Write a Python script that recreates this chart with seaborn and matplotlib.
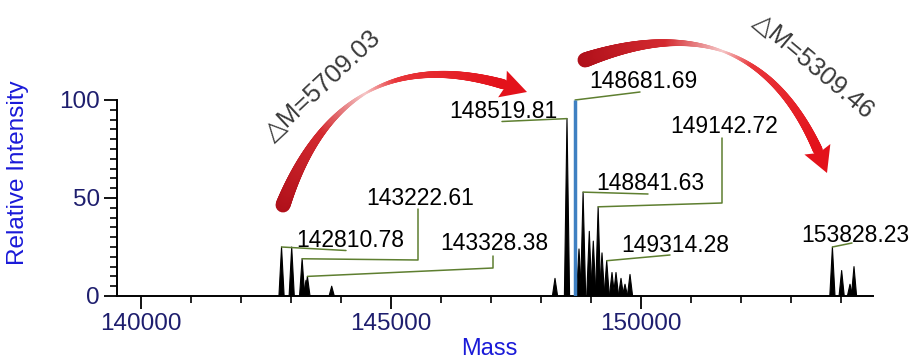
import numpy as np
import pandas as pd
import matplotlib
matplotlib.use("Agg")
import matplotlib.pyplot as plt
import seaborn as sns
from matplotlib.collections import LineCollection
from matplotlib.patches import Polygon
from matplotlib.transforms import IdentityTransform
from matplotlib.colors import LinearSegmentedColormap
from matplotlib.ticker import MultipleLocator, FixedLocator

# ---------------- data ----------------
peak_mass = [142810.78, 143014, 143222.61, 143300, 143328.38, 143814,
             148280, 148519.81, 148760, 148841.63, 148966, 149046, 149142.72,
             149220, 149314.28, 149420, 149500, 149600, 149680, 149780,
             153828.23, 154013, 154180, 154260]
peak_height = [25, 25, 19, 8, 10, 5,
               9, 90.5, 24, 53, 33, 28, 45.5,
               22, 18, 12, 12, 9, 6, 11,
               25, 13, 6, 15]
main_mass = 148681.69
main_height = 100

label_masses = [142810.78, 143222.61, 143328.38, 148519.81, 148681.69,
                148841.63, 149142.72, 149314.28, 153828.23]
delta_labels = ["\u25B3M=5709.03", "\u25B3M=5309.46"]

x_major = [140000, 145000, 150000]
y_major = [0, 50, 100]

# ---------------- style ----------------
sns.set_style("ticks")
plt.rcParams['font.family'] = ['Liberation Sans', 'DejaVu Sans']

W, H = 915, 363
fig = plt.figure(figsize=(W / 100, H / 100), dpi=100)
ax = fig.add_axes([117 / W, 67 / H, 756 / W, 196 / H])
ax.set_xlim(139520, 154640)
ax.set_ylim(0, 100)

# spectrum peaks
half_w = 52
rows = []
for i, (m, h) in enumerate(zip(peak_mass, peak_height)):
    for dx, yy in ((-half_w, 0), (0, h), (half_w, 0)):
        rows.append({"peak": i, "mass": m + dx, "intensity": yy})
df = pd.DataFrame(rows)
sns.lineplot(data=df, x="mass", y="intensity", units="peak", estimator=None,
             color="black", lw=0.8, sort=False, legend=False, ax=ax)
for i, g in df.groupby("peak"):
    ax.fill(g["mass"], g["intensity"], color="black", lw=0)
ax.vlines(main_mass, 0, main_height, color="#3f80c2", lw=2.5, zorder=5)

# axes styling
navy = "#1e1e6e"
for s in ("top", "right"):
    ax.spines[s].set_visible(False)
for s in ("left", "bottom"):
    ax.spines[s].set_linewidth(1.4)
    ax.spines[s].set_color("black")
ax.xaxis.set_major_locator(FixedLocator(x_major))
ax.xaxis.set_minor_locator(MultipleLocator(1000))
ax.yaxis.set_major_locator(FixedLocator(y_major))
ax.yaxis.set_minor_locator(MultipleLocator(5))
ax.tick_params(which="major", length=9.5, width=1.3, color="black",
               labelsize=17.5, labelcolor=navy, pad=3)
ax.tick_params(which="minor", length=5, width=1.2, color="black")
ax.set_xticklabels([str(v) for v in x_major])
ax.set_yticklabels([str(v) for v in y_major])
ax.set_xlabel("Mass", fontsize=17, color="#1a1ad8")
ax.set_ylabel("Relative Intensity", fontsize=17.5, color="#1a1ad8")
ax.xaxis.set_label_coords(0.493, -0.215)
ax.yaxis.set_label_coords(-0.117, 0.63)

fig.canvas.draw()
inv = ax.transData.inverted()


def px(x, y):
    return inv.transform((x, H - y))


# labels with leader lines
layout = {
    142810.78: ((350, 247), [(346, 250.5)]),
    143222.61: ((420, 205), [(418, 260), (418, 209)]),
    143328.38: ((494, 250), [(493, 268), (493, 256)]),
    148519.81: ((503, 118), [(502, 121.5)]),
    148681.69: ((643, 88), [(640, 92)]),
    148841.63: ((650, 190), [(648, 194)]),
    149142.72: ((724, 133), [(722, 203), (722, 138)]),
    149314.28: ((675, 252), [(670, 255)]),
    153828.23: ((855, 242), [(852, 243)]),
}
heights = dict(zip(peak_mass, peak_height))
heights[main_mass] = main_height
leader_col = "#5e7f30"
for m in label_masses:
    (tx, ty), pts = layout[m]
    top = (m, heights[m])
    xs = [top[0]] + [px(*p)[0] for p in pts]
    ys = [top[1]] + [px(*p)[1] for p in pts]
    ax.plot(xs, ys, color=leader_col, lw=1.1, clip_on=False, zorder=4)
    lx, ly = px(tx, ty)
    ax.text(lx, ly, f"{m:.2f}", ha="center", va="baseline", fontsize=16.5,
            color="black", clip_on=False, zorder=6)

# curved red arrows with tapering, fading body (drawn in pixel space)
cmap = LinearSegmentedColormap.from_list(
    "arr", [(0.0, "#b0101a"), (0.3, "#d42a30"), (0.5, "#f6c8c8"),
            (0.62, "#e8363a"), (1.0, "#e3121b")])
width_t = [0.0, 0.3, 0.5, 0.7, 1.0]
width_px = [15.0, 7.0, 2.2, 6.0, 10.0]


def draw_arrow(a, b, rad, head_len=26, head_w=28):
    P0 = np.array([a[0], H - a[1]], float)
    P2 = np.array([b[0], H - b[1]], float)
    d = P2 - P0
    C = (P0 + P2) / 2 + rad * np.array([d[1], -d[0]])
    t = np.linspace(0, 1, 300)[:, None]
    pts = (1 - t) ** 2 * P0 + 2 * (1 - t) * t * C + t ** 2 * P2
    seg_len = np.r_[0, np.cumsum(np.hypot(*np.diff(pts, axis=0).T))]
    total = seg_len[-1]
    body = seg_len <= total - head_len + 2
    bp = pts[body]
    s = seg_len[body] / seg_len[body][-1]
    segs = np.stack([bp[:-1], bp[1:]], axis=1)
    sm = (s[:-1] + s[1:]) / 2
    lw = np.interp(sm, width_t, width_px) * 0.72
    lc = LineCollection(segs, colors=cmap(sm), linewidths=lw,
                        capstyle="round", transform=IdentityTransform(),
                        zorder=3)
    fig.add_artist(lc)
    tip = P2
    idx = np.argmax(seg_len >= total - head_len)
    base = pts[idx]
    u = (tip - base) / np.linalg.norm(tip - base)
    n = np.array([-u[1], u[0]])
    notch = base + u * 4
    poly = np.array([tip, base + n * head_w / 2, notch, base - n * head_w / 2])
    fig.add_artist(Polygon(poly, closed=True, facecolor="#e3121b",
                           edgecolor="none", transform=IdentityTransform(),
                           zorder=3))


draw_arrow((283, 205), (527, 92), -0.5)
draw_arrow((585, 60), (827, 173), -0.5)

delta_pos = [((323, 86), 43), ((814, 66), -40)]
for txt, ((x, y), rot) in zip(delta_labels, delta_pos):
    lx, ly = px(x, y)
    ax.text(lx, ly, txt, rotation=rot, rotation_mode="anchor", ha="center",
            va="center", fontsize=18.5, color="#3a3a3a", clip_on=False)

fig.savefig("out.png", dpi=100)
